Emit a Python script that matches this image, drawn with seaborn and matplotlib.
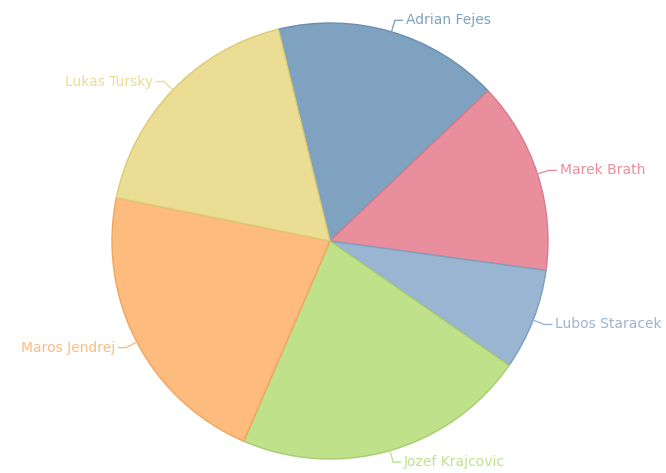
import numpy as np
import matplotlib.pyplot as plt
import seaborn as sns

names = ['Adrian Fejes', 'Marek Brath', 'Lubos Staracek', 'Jozef Krajcovic',
         'Maros Jendrej', 'Lukas Tursky']
shares = [16.7, 14.25, 7.5, 21.8, 21.7, 18.0]
fill_colors = ['#7ea2bf', '#e88e9d', '#99b5d1', '#bfe18a', '#fdbb7e', '#ebdd93']
edge_colors = ['#6b8fae', '#d97a8b', '#7f9fc0', '#a8cc72', '#f3a45e', '#dccb72']


def make_chart():
    sns.set_theme(style="white")
    plt.rcParams['font.family'] = ['DejaVu Sans']

    fig = plt.figure(figsize=(6.66, 4.73), dpi=100)
    ax = fig.add_axes([0, 0, 1, 1])

    pal = sns.color_palette(fill_colors)
    wedges, _ = ax.pie(shares, colors=pal, startangle=103.7, counterclock=False,
                       radius=1.0, wedgeprops=dict(linewidth=1.0))
    for w, ec in zip(wedges, edge_colors):
        w.set_edgecolor(ec)

    # labels outside with short connectors
    for w, name, col in zip(wedges, names, fill_colors):
        mid = np.deg2rad((w.theta1 + w.theta2) / 2)
        cx, cy = np.cos(mid), np.sin(mid)
        ex, ey = cx * 1.0, cy * 1.0
        bx, by = cx * 1.055, cy * 1.055
        side = 1 if cx >= 0 else -1
        tx = bx + side * 0.05
        ax.plot([ex, bx, tx - side * 0.015], [ey, by, by], color=col, lw=1)
        ax.text(tx, by, name, color=col, fontsize=10,
                ha='left' if side > 0 else 'right', va='center')

    ax.set_aspect('equal')
    ax.set_xlim(-330 / 218, 336 / 218)
    ax.set_ylim(-232 / 218, 241 / 218)
    ax.axis('off')

    fig.savefig('out.png', dpi=100)
    plt.close(fig)


if __name__ == "__main__":
    make_chart()
